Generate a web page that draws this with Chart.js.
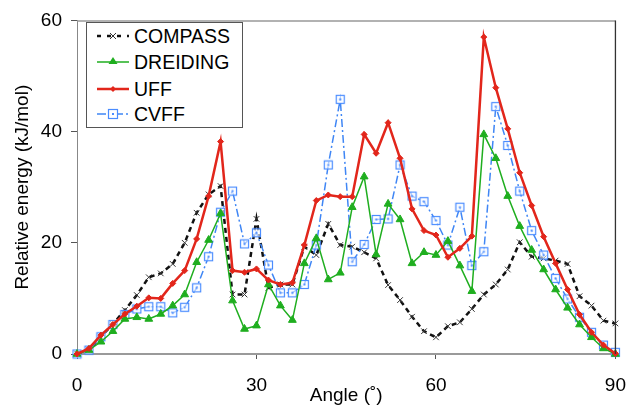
<!DOCTYPE html>
<html>
<head>
<meta charset="utf-8">
<script src="https://cdn.jsdelivr.net/npm/chart.js@4.4.0/dist/chart.umd.min.js"></script>
<style>
  html, body { margin: 0; padding: 0; background: #fff; }
  #wrap { position: relative; width: 641px; height: 408px; }
  #legend { position: absolute; left: 86px; top: 22px; width: 155px; height: 104px;
    border: 1px solid #555; background: #fff; font-family: "Liberation Sans", Arial, sans-serif; font-size: 19.5px; color: #000; }
  .row { position: absolute; left: 0; height: 24px; display: flex; align-items: center; }
  .row svg { margin-left: 9px; margin-right: 4px; }
</style>
</head>
<body>
<div id="wrap">
  <canvas id="c" width="641" height="408"></canvas>
  <div id="legend"></div>
</div>
<script>
const angles = [0,2,4,6,8,10,12,14,16,18,20,22,24,26,28,30,32,34,36,38,40,42,44,46,48,50,52,54,56,58,60,62,64,66,68,70,72,74,76,78,80,82,84,86,88,90];
const compass = [0,0.7,3.1,5.4,7.9,10.6,13.8,14.5,16.2,20.0,25.4,28.7,30.2,10.7,10.7,24.3,11.9,12.5,12.5,19.3,17.8,23.4,19.6,19.3,18.3,17.2,12.4,9.7,6.7,4.1,3.0,5.0,5.7,8.1,10.7,12.5,15.2,20.1,17.5,17.2,16.8,16.2,10.4,8.7,6.0,5.5];
const dreiding = [0,0.7,2.2,4.1,6.3,6.6,6.3,7.2,8.7,10.7,16.5,20.5,25.3,9.6,4.5,5.1,12.5,8.7,6.1,16.3,20.8,13.4,14.6,26.4,31.9,17.9,27.0,24.2,16.3,18.3,17.8,20.3,15.9,11.3,39.5,35.2,28.4,23.0,18.7,15.2,11.6,8.3,5.3,3.0,1.0,0];
const uff = [0,1.0,3.4,5.3,7.2,8.6,10.1,10.0,12.7,15.0,20.7,28.4,38.2,15.0,14.7,15.3,13.3,12.5,12.8,19.6,27.6,28.6,28.3,28.3,39.5,36.1,41.6,35.2,26.1,22.2,21.4,17.4,19.0,21.2,57.0,47.9,40.5,32.6,26.7,21.1,16.3,11.6,7.1,3.9,1.6,0.1];
const cvff = [0,0.7,3.1,5.3,7.1,8.1,8.5,8.5,7.4,8.4,11.9,17.5,25.5,29.3,19.8,21.8,16.0,11.0,11.0,12.5,19.6,34.0,45.8,16.6,19.7,24.2,24.3,34.0,28.4,27.4,24.0,19.6,26.4,15.9,18.4,44.5,37.5,29.3,22.2,17.8,13.6,9.9,6.6,3.9,1.6,0.3];
const seriesNames = ["COMPASS","DREIDING","UFF","CVFF"];
const xTicks = [0,30,60,90];
const yTicks = [0,20,40,60];
const xTitle = "Angle (\u02DA)";
const yTitle = "Relative energy (kJ/mol)";

const FONT = '"Liberation Sans", Arial, sans-serif';
const colBlack = '#111', colGreen = '#1fae1f', colRed = '#e2261b', colBlue = '#3f86f5';

function pts(arr){ return angles.map((a,i)=>({x:a, y:arr[i]})); }

// custom marker for CVFF: open square with center dot
const sq = document.createElement('canvas');
sq.width = 11; sq.height = 11;
(function(){
  const g = sq.getContext('2d');
  g.strokeStyle = '#4a8cff'; g.lineWidth = 1.2;
  g.fillStyle = 'rgba(255,255,255,0.6)';
  g.fillRect(1,1,9,9);
  g.strokeRect(1.5,1.5,8,8);
  g.fillStyle = '#4a8cff';
  g.fillRect(4.5,4.5,2,2);
})();

const frame = {
  id: 'frame',
  afterDraw(chart){
    const {ctx, chartArea:a} = chart;
    ctx.save();
    ctx.strokeStyle = '#999'; ctx.lineWidth = 1.5;
    ctx.beginPath(); ctx.moveTo(a.left, a.top+0.5); ctx.lineTo(a.right, a.top+0.5); ctx.stroke();
    ctx.strokeStyle = '#333'; ctx.lineWidth = 1.3;
    ctx.beginPath(); ctx.moveTo(a.right, a.top); ctx.lineTo(a.right, a.bottom); ctx.stroke();
    ctx.restore();
  }
};

new Chart(document.getElementById('c'), {
  type: 'line',
  data: {
    datasets: [
      { label: seriesNames[0], data: pts(compass), borderColor: colBlack, borderWidth: 2.5, borderDash: [5,4],
        pointStyle: 'crossRot', pointRadius: 4, pointBorderColor: '#333', pointBorderWidth: 1, pointBackgroundColor: '#333', clip: false, order: 4 },
      { label: seriesNames[1], data: pts(dreiding), borderColor: colGreen, borderWidth: 1.5,
        pointStyle: 'triangle', pointRadius: 4.5, pointBackgroundColor: colGreen, pointBorderColor: colGreen, pointBorderWidth: 1, clip: false, order: 2 },
      { label: seriesNames[2], data: pts(uff), borderColor: colRed, borderWidth: 2.5,
        pointStyle: 'rectRot', pointRadius: 3, pointBackgroundColor: colRed, pointBorderColor: colRed, pointBorderWidth: 1, clip: false, order: 1 },
      { label: seriesNames[3], data: pts(cvff), borderColor: colBlue, borderWidth: 1.5, borderDash: [8,3,2,3],
        pointStyle: sq, pointRadius: 5, clip: false, order: 3 }
    ]
  },
  options: {
    responsive: false,
    animation: false,
    devicePixelRatio: 1,
    layout: { padding: { top: 14, right: 24, left: 0, bottom: 0 } },
    plugins: { legend: { display: false }, tooltip: { enabled: false } },
    elements: { line: { tension: 0 } },
    scales: {
      x: {
        type: 'linear', min: 0, max: 90,
        afterBuildTicks(s){ s.ticks = xTicks.map(v=>({value:v})); },
        afterFit(s){ s.height = 54; },
        grid: { display: true, drawOnChartArea: false, drawTicks: true, tickLength: 5, color: '#555' },
        border: { display: true, color: '#9a9a9a', width: 2 },
        ticks: { color: '#000', font: { family: FONT, size: 19 }, padding: 15, maxRotation: 0 },
        title: { display: true, text: xTitle, color: '#000', font: { family: FONT, size: 19 }, padding: { top: 0, bottom: 1 } }
      },
      y: {
        type: 'linear', min: 0, max: 60,
        afterBuildTicks(s){ s.ticks = yTicks.map(v=>({value:v})); },
        afterFit(s){ s.width = 77; },
        grid: { display: true, drawOnChartArea: false, drawTicks: true, tickLength: 6, color: '#555' },
        border: { display: true, color: '#888', width: 1 },
        ticks: { color: '#000', font: { family: FONT, size: 19 }, padding: 9 },
        title: { display: true, text: yTitle, color: '#000', font: { family: FONT, size: 19 }, padding: { top: 11, bottom: 0 } }
      }
    }
  },
  plugins: [frame]
});

// HTML legend
const legend = document.getElementById('legend');
const rowsTop = [1, 27, 54, 79];
const samples = [
  '<line x1="1" y1="12" x2="33" y2="12" stroke="#111" stroke-width="2.5" stroke-dasharray="4,6" stroke-dashoffset="-0"/><path d="M14 9 L20 15 M20 9 L14 15" stroke="#333" stroke-width="1"/>',
  '<line x1="1" y1="12" x2="33" y2="12" stroke="'+colGreen+'" stroke-width="1.5"/><path d="M17 7 L21.5 14 L12.5 14 Z" fill="'+colGreen+'"/>',
  '<line x1="1" y1="12" x2="33" y2="12" stroke="'+colRed+'" stroke-width="2.5"/><path d="M17 9 L20 12 L17 15 L14 12 Z" fill="'+colRed+'"/>',
  '<line x1="1" y1="12" x2="33" y2="12" stroke="'+colBlue+'" stroke-width="1.5" stroke-dasharray="9,3,2,3"/><rect x="12.5" y="7.5" width="9" height="9" fill="#fff" stroke="#4a8cff" stroke-width="1.2"/><rect x="16" y="11" width="2" height="2" fill="#4a8cff"/>'
];
seriesNames.forEach((n,i)=>{
  const r = document.createElement('div');
  r.className = 'row';
  r.style.top = rowsTop[i] + 'px';
  r.innerHTML = '<svg width="34" height="24" viewBox="0 0 34 24">'+samples[i]+'</svg><span>'+n+'</span>';
  legend.appendChild(r);
});
</script>
</body>
</html>
